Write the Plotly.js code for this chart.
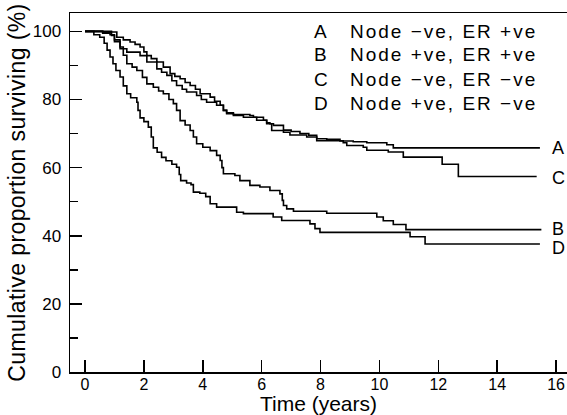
<!DOCTYPE html>
<html><head><meta charset="utf-8">
<script src="https://cdn.plot.ly/plotly-3.0.1.min.js"></script>
<style>html,body{margin:0;padding:0;background:#fff;}</style>
</head><body><div id="chart" style="width:567px;height:415px;"></div>
<script>
// Group labels
const groupLetters = ['A', 'B', 'C', 'D'];
const groupNames = ['Node \u2212ve, ER +ve', 'Node +ve, ER +ve', 'Node \u2212ve, ER \u2212ve', 'Node +ve, ER \u2212ve'];

// Kaplan-Meier curves (time in years, % surviving)
const timeA = [0,0.9,1.08,1.3,1.53,1.7,1.87,2.0,2.1,2.25,2.44,2.66,2.89,3.05,3.23,3.4,3.57,3.75,3.91,4.25,4.4,4.59,4.7,4.81,5.04,5.6,5.72,6.06,6.17,6.4,6.74,7.0,7.3,7.6,7.87,8.21,8.66,9.11,9.57,10.25,10.47,15.45];
const survA = [100,99.8,98.3,97.5,96.9,96.2,95.4,94,92.9,92,91,89.5,87.6,86.8,86.1,85,84.1,83,81.7,80.7,79.5,78.3,76.8,75.8,75.6,75.3,74.8,73.9,72.9,72.4,71,70.6,70,69.5,68.5,68.3,67.8,67.6,67.3,66.7,65.8,65.8];

const timeB = [0,0.6,0.85,1.0,1.19,1.3,1.42,1.6,1.76,1.95,2.1,2.32,2.5,2.66,2.85,3.0,3.11,3.23,3.4,3.57,3.68,3.79,4.0,4.25,4.47,4.59,4.65,4.7,5.09,5.26,5.6,5.94,6.28,6.62,6.7,6.74,6.85,7.08,8.21,9.91,10.13,10.47,10.9,15.5];
const survB = [100,99.5,99,97.5,95.4,93,90.5,89.5,88.5,86.5,84.6,83.6,82.5,81.7,80,78.8,76.8,73.8,72.5,70.9,69,67,66,65,63.6,62.1,60,58.2,57.7,56.2,54.8,54.3,53.3,52.3,50.4,48.9,47.9,47.2,46.6,45.5,44.4,43.3,41.8,41.8];

const timeC = [0,0.6,0.9,1.0,1.19,1.42,1.87,2.1,2.44,2.6,2.78,2.95,3.11,3.3,3.45,3.79,3.95,4.13,4.47,4.7,4.81,5.04,5.38,5.83,6.17,6.28,6.34,6.74,6.96,7.53,7.87,8.77,8.89,9.45,9.57,10.3,10.81,12.13,12.68,15.34];
const survC = [100,99.7,98.8,97,94.9,93.9,92.9,91,89,88,87.1,85.5,84.1,83,82.2,81.2,80,79.2,78.3,76.8,76.1,75.3,74.8,73.9,73.2,72.9,70.9,70.4,69.6,69,67.9,67.3,66.5,66,65.1,64.6,63.1,61,57.4,57.4];

const timeD = [0,0.3,0.5,0.65,0.75,0.85,0.95,1.05,1.19,1.3,1.42,1.55,1.76,1.8,1.87,2.0,2.15,2.25,2.32,2.45,2.6,2.75,2.95,3.11,3.2,3.25,3.45,3.6,3.68,3.9,4.1,4.25,4.47,5.15,5.38,6.39,6.68,7.64,7.81,7.98,11.04,11.55,15.45];
const survD = [100,99,98.3,96.5,94.5,92.5,90.5,88.5,86.6,84,81.7,80.5,79.2,76.8,74.6,73.5,71.9,69,65.8,64.5,63,62,61,60.1,58,56.2,55.5,55,52.8,52.5,51.5,49.4,48.4,46.9,46.5,45.5,44.5,43.5,42.1,41,39.7,37.6,37.6];

const xTicks = [0, 2, 4, 6, 8, 10, 12, 14, 16];
const yTicks = [0, 20, 40, 60, 80, 100];

const series = [[timeA, survA], [timeB, survB], [timeC, survC], [timeD, survD]];
const FONT = 'Liberation Sans, Arial, Helvetica, sans-serif';

const traces = series.map((s, i) => ({
  x: s[0], y: s[1], type: 'scatter', mode: 'lines', name: groupLetters[i],
  line: {shape: 'hv', color: '#000', width: 1.6}, hoverinfo: 'skip'
}));

const annotations = [];
// legend block (top right)
const legendY = [100, 93.1, 85.9, 78.8];
groupLetters.forEach((L, i) => {
  annotations.push({x: 7.70, y: legendY[i], xref: 'x', yref: 'y', text: L, showarrow: false,
    xanchor: 'left', yanchor: 'middle', font: {family: FONT, size: 19, color: '#000'}});
  annotations.push({x: 8.93, y: legendY[i], xref: 'x', yref: 'y',
    text: '<span style="letter-spacing:2px">' + groupNames[i] + '</span>', showarrow: false,
    xanchor: 'left', yanchor: 'middle', font: {family: FONT, size: 19, color: '#000'}});
});
// curve end labels
const endShift = [0, 1, -2, -4];
series.forEach((s, i) => {
  annotations.push({x: 15.8, y: s[1][s[1].length - 1], xref: 'x', yref: 'y', text: groupLetters[i],
    showarrow: false, xanchor: 'left', yanchor: 'middle', yshift: endShift[i],
    font: {family: FONT, size: 18, color: '#000'}});
});

const layout = {
  width: 567, height: 415,
  margin: {l: 70, r: 0, t: 13, b: 43, pad: 0},
  paper_bgcolor: '#fff', plot_bgcolor: '#fff',
  showlegend: false,
  font: {family: FONT, color: '#000'},
  xaxis: {
    range: [-0.51, 16.37], tickmode: 'array', tickvals: xTicks, ticktext: xTicks.map(String),
    ticks: 'inside', ticklen: 12, tickwidth: 1.5, tickcolor: '#000',
    showline: true, linewidth: 1.5, linecolor: '#000', mirror: true,
    showgrid: false, zeroline: false, automargin: false,
    ticklabelstandoff: -3,
    tickfont: {family: FONT, size: 16, color: '#000'},
    title: {text: 'Time (years)', font: {family: FONT, size: 21, color: '#000'}, standoff: 12}
  },
  yaxis: {
    range: [0, 105.4], tickmode: 'array', tickvals: yTicks, ticktext: yTicks.map(String),
    ticks: 'inside', ticklen: 12, tickwidth: 1.5, tickcolor: '#000',
    minor: {dtick: 10, tick0: 0, ticks: 'inside', ticklen: 8, tickwidth: 1.5, tickcolor: '#000'},
    showline: true, linewidth: 1.5, linecolor: '#000',
    showgrid: false, zeroline: false, automargin: false,
    ticklabelstandoff: 4,
    tickfont: {family: FONT, size: 17, color: '#000'},
    title: {text: '<span style="letter-spacing:0.4px">Cumulative proportion surviving (%)</span>',
      font: {family: FONT, size: 23, color: '#000'}, standoff: 0}
  },
  annotations: annotations
};

Plotly.newPlot('chart', traces, layout, {displayModeBar: false, staticPlot: true});
</script>
</body></html>
